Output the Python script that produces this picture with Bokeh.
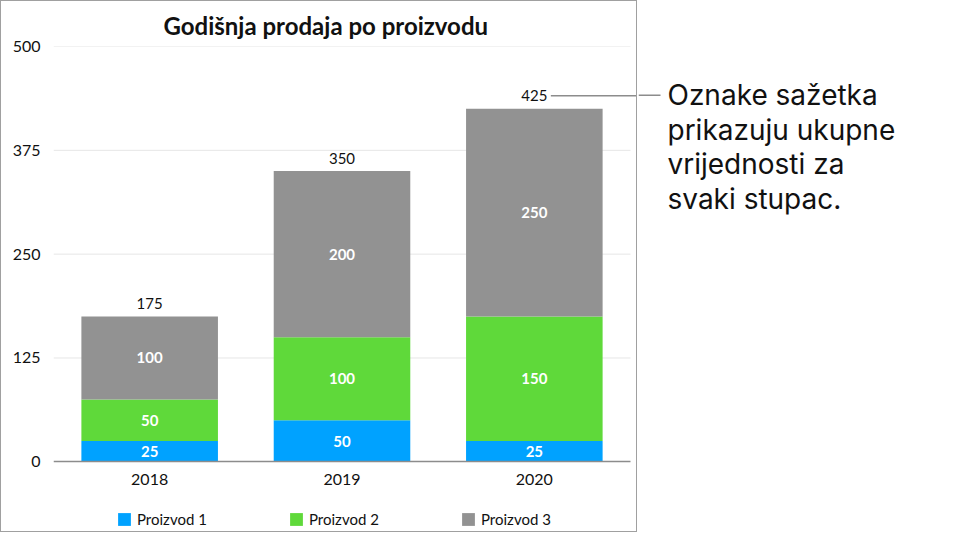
from bokeh.core.properties import value
from bokeh.embed import file_html
from bokeh.layouts import row
from bokeh.models import ColumnDataSource, FixedTicker, Legend, LegendItem, Range1d
from bokeh.plotting import figure
from bokeh.resources import INLINE

# ---------- data ----------
years = ["2018", "2019", "2020"]
proizvod_1 = [25, 50, 25]
proizvod_2 = [50, 100, 150]
proizvod_3 = [100, 200, 250]
series_names = ["Proizvod 1", "Proizvod 2", "Proizvod 3"]
y_ticks = [0, 125, 250, 375, 500]
title_text = "Godišnja prodaja po proizvodu"
note_lines = ["Oznake sažetka", "prikazuju ukupne", "vrijednosti za", "svaki stupac."]

colors = ["#00a2ff", "#5fd93a", "#929292"]
FONT = "Lato"
NOTE_FONT = "Inter"

xs = [i + 0.5 for i in range(len(years))]
totals = [a + b + c for a, b, c in zip(proizvod_1, proizvod_2, proizvod_3)]

src = ColumnDataSource(dict(x=xs, p1=proizvod_1, p2=proizvod_2, p3=proizvod_3))

# ---------- chart ----------
# the frame runs down to the bottom edge so the legend can live inside it;
# the category axis is pinned at y=0
W1, H1 = 637, 532
FRAME_L, FRAME_T = 52, 43
BELOW = 72                     # pixels under the zero line
frame_w = W1 - FRAME_L
cat_w = 577 / 3.0              # pixels per category
px_per_unit = (H1 - FRAME_T - BELOW) / 500.0
y_min = -BELOW / px_per_unit

p = figure(
    width=W1, height=H1,
    x_range=Range1d(0, frame_w / cat_w), y_range=Range1d(y_min, 500),
    output_backend="svg", toolbar_location=None,
    min_border_left=FRAME_L, min_border_right=0,
    min_border_top=FRAME_T, min_border_bottom=0,
    title=title_text,
    styles={"border": "1px solid #a0a0a0"},
)
p.outline_line_color = None
p.xgrid.visible = False
p.ygrid.visible = False

p.title.align = "left"
p.title.offset = 110
p.title.text_font = FONT
p.title.text_font_size = "24px"
p.title.text_font_style = "bold"
p.title.text_color = "#111111"
p.title.standoff = 14

# light gridlines limited to the category area
p.segment(x0=[0] * 4, y0=y_ticks[1:], x1=[len(years)] * 4, y1=y_ticks[1:],
          line_color="#e6e6e6", line_width=1)

bars = p.vbar_stack(["p1", "p2", "p3"], x="x", width=0.71, color=colors,
                    line_color=None, source=src)

# values inside the segments
lab_x, lab_y, lab_t = [], [], []
for i, x in enumerate(xs):
    base = 0
    for s in (proizvod_1, proizvod_2, proizvod_3):
        lab_x.append(x)
        lab_y.append(base + s[i] / 2)
        lab_t.append(str(s[i]))
        base += s[i]
p.text(lab_x, lab_y, text=lab_t, text_color="white", text_font=value(FONT),
       text_font_size="15px", text_font_style="bold",
       text_align="center", text_baseline="middle")

# summary labels
p.text(xs, totals, text=[str(t) for t in totals], text_color="#111111",
       text_font=value(FONT), text_font_size="15px",
       text_align="center", text_baseline="middle", y_offset=-13)

# connector from the last summary label
y_line = totals[-1] + 13 / px_per_unit
p.segment(x0=[xs[-1] + 16.5 / cat_w], y0=[y_line], x1=[frame_w / cat_w + 1], y1=[y_line],
          line_color="#8c8c8c", line_width=1.5)

p.xaxis.fixed_location = 0
p.xaxis.ticker = FixedTicker(ticks=xs)
p.xaxis.major_label_overrides = {x: y for x, y in zip(xs, years)}
p.xaxis.bounds = (0, len(years))
p.xaxis.axis_line_color = "#8c8c8c"
p.xaxis.axis_line_width = 1.5
p.xaxis.major_label_standoff = 12

p.yaxis.ticker = FixedTicker(ticks=y_ticks)
p.yaxis.axis_line_color = None
p.yaxis.major_label_standoff = 13

for ax in (p.xaxis, p.yaxis):
    ax.major_tick_line_color = None
    ax.minor_tick_line_color = None
    ax.major_tick_out = 0
    ax.minor_tick_out = 0
    ax.major_label_text_font = FONT
    ax.major_label_text_font_size = "16px"
    ax.major_label_text_color = "#111111"

legend = Legend(
    items=[LegendItem(label=n, renderers=[r]) for n, r in zip(series_names, bars)],
    orientation="horizontal", location=(63, 5),
    spacing=71, label_width=80, label_height=16, glyph_width=16, glyph_height=16,
    label_standoff=5, padding=0, margin=0,
    border_line_color=None, background_fill_alpha=0,
    label_text_font=FONT, label_text_font_size="15px", label_text_color="#111111",
)
p.add_layout(legend, "center")

# ---------- callout ----------
W2 = 338
q = figure(
    width=W2, height=H1, x_range=Range1d(0, W2), y_range=Range1d(533, 44),
    output_backend="svg", toolbar_location=None,
    min_border_left=0, min_border_right=0,
    min_border_top=FRAME_T, min_border_bottom=0,
    x_axis_location=None, y_axis_location=None,
    styles={"border": "1px solid white"},
)
q.outline_line_color = None
q.xgrid.visible = False
q.ygrid.visible = False
q.segment(x0=[0], y0=[93], x1=[22], y1=[93], line_color="#8c8c8c", line_width=1.5)
q.text([29] * len(note_lines), [93 + 34.7 * i for i in range(len(note_lines))],
       text=note_lines, text_font=value(NOTE_FONT), text_font_size="28px",
       text_color="#111111", text_baseline="middle", text_align="left")

layout = row(p, q)
open("out.html", "w").write(file_html(layout, INLINE))
